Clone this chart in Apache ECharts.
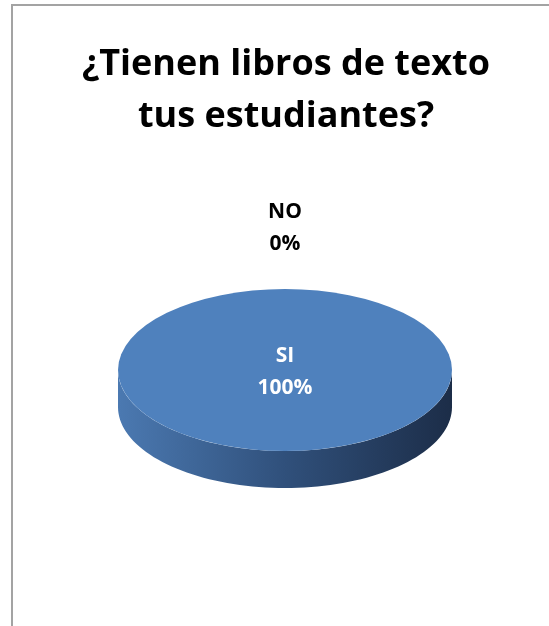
<!DOCTYPE html>
<html>
<head>
<meta charset="utf-8">
<script src="https://cdn.jsdelivr.net/npm/echarts@6/dist/echarts.min.js"></script>
<style>
html, body { margin: 0; padding: 0; width: 549px; height: 626px; overflow: hidden; background: #fff; }
#chart {
    position: absolute; left: 11px; top: 4px; width: 546px; height: 640px;
    border-left: 2px solid #a3a3a3; border-top: 2px solid #a3a3a3;
}
</style>
</head>
<body>
<div id="chart"></div>
<script>
const categories = ['SI', 'NO'];
const values = [100, 0];
const titleText = '¿Tienen libros de texto\ntus estudiantes?';

const total = values.reduce((a, b) => a + b, 0);

// 3d pie look: flattened ellipse plus a front rim
const cx = 272, cy = 364, rx = 167, ry = 81, depth = 37;

const sideFill = new echarts.graphic.LinearGradient(0, 0, 1, 0, [
    { offset: 0, color: '#4b79b1' },
    { offset: 0.5, color: '#30507b' },
    { offset: 1, color: '#1c2d48' }
]);

function renderSlice(params, api) {
    const i = params.dataIndex;
    const v = api.value(0);
    let before = 0;
    for (let k = 0; k < i; k++) before += values[k];
    const a0 = -Math.PI / 2 + before / total * 2 * Math.PI;
    const a1 = a0 + v / total * 2 * Math.PI;
    const children = [];

    // visible rim = part of the arc facing the viewer (0..PI)
    [0, 2 * Math.PI, -2 * Math.PI].forEach(off => {
        const s = Math.max(a0, off), e = Math.min(a1, Math.PI + off);
        if (e <= s) return;
        const pts = [];
        const n = 80;
        for (let j = 0; j <= n; j++) {
            const a = s + (e - s) * j / n;
            pts.push([cx + rx * Math.cos(a), cy + ry * Math.sin(a)]);
        }
        for (let j = n; j >= 0; j--) {
            const a = s + (e - s) * j / n;
            pts.push([cx + rx * Math.cos(a), cy + ry * Math.sin(a) + depth]);
        }
        children.push({ type: 'polygon', z2: 0, shape: { points: pts }, style: { fill: sideFill } });
    });

    if (v > 0) {
        children.push({
            type: 'sector', z2: 1, x: cx, y: cy, scaleY: ry / rx,
            shape: { cx: 0, cy: 0, r: rx, r0: 0, startAngle: a0, endAngle: a1, clockwise: true },
            style: { fill: '#4f81bd' }
        });
    }

    const share = v / total;
    const mid = (a0 + a1) / 2;
    let lx, ly, color;
    if (share >= 1) {
        lx = cx; ly = cy + 2; color = '#fff';
    } else if (share > 0) {
        lx = cx + rx * 0.55 * Math.cos(mid); ly = cy + ry * 0.55 * Math.sin(mid); color = '#fff';
    } else {
        lx = cx + (rx + 61) * Math.cos(mid); ly = cy + (ry + 61) * Math.sin(mid); color = '#000';
    }
    children.push({
        type: 'text', z2: 2, x: lx, y: ly,
        style: {
            text: categories[i] + '\n' + Math.round(share * 100) + '%',
            fill: color,
            font: 'bold 21px "Open Sans"',
            align: 'center',
            verticalAlign: 'middle',
            lineHeight: 32
        }
    });

    return { type: 'group', children };
}

const chart = echarts.init(document.getElementById('chart'));
chart.setOption({
    animation: false,
    title: {
        text: titleText,
        left: 'center',
        top: 28,
        textStyle: {
            fontFamily: 'Open Sans',
            fontWeight: 'bold',
            fontSize: 36,
            lineHeight: 52,
            color: '#000'
        }
    },
    series: [
        {
            type: 'custom',
            coordinateSystem: 'none',
            silent: true,
            renderItem: renderSlice,
            data: values.map((v, i) => ({ name: categories[i], value: [v] }))
        }
    ]
});
</script>
</body>
</html>
